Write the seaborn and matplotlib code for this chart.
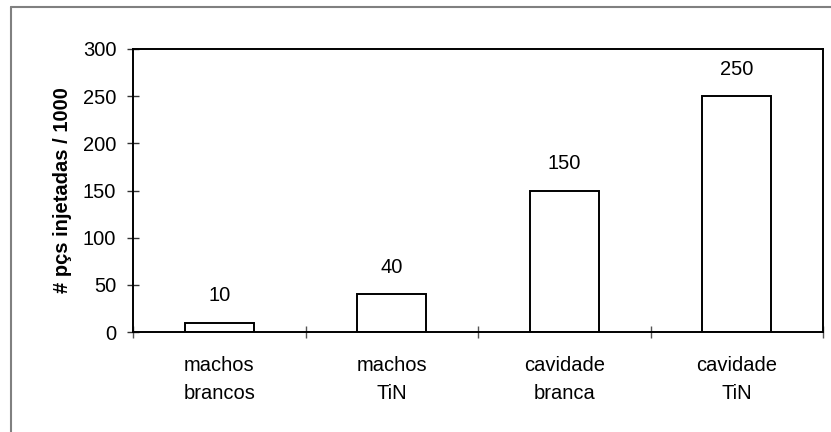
import matplotlib
matplotlib.use("Agg")
import matplotlib.pyplot as plt
import seaborn as sns
import pandas as pd
from matplotlib.lines import Line2D

categories = ["machos\nbrancos", "machos\nTiN", "cavidade\nbranca", "cavidade\nTiN"]
values = [10, 40, 150, 250]
value_labels = ["10", "40", "150", "250"]
y_ticks = [0, 50, 100, 150, 200, 250, 300]
y_label = "# pçs injetadas / 1000"

sns.set_style("white")
plt.rcParams['font.family'] = ['Liberation Sans', 'DejaVu Sans']
plt.rcParams['text.color'] = 'black'
plt.rcParams['axes.labelcolor'] = 'black'
plt.rcParams['xtick.labelcolor'] = 'black'
plt.rcParams['ytick.labelcolor'] = 'black'

FS = 14.5

fig = plt.figure(figsize=(8.31, 4.32), dpi=100)
ax = fig.add_axes([133/831, 1-332/432, (823-133)/831, (332-49)/432])

df = pd.DataFrame({"cat": categories, "val": values})
sns.barplot(data=df, x="cat", y="val", ax=ax, color="white", edgecolor="black",
            linewidth=1.4, width=0.4, saturation=1)

ax.set_ylim(0, 300)
ax.set_xlim(-0.5, 3.5)
ax.set_yticks(y_ticks)
ax.set_yticklabels([str(t) for t in y_ticks], fontsize=FS, color="black")
ax.tick_params(axis="y", direction="inout", length=8, width=1, color="#333333", pad=8, left=True)

# x ticks at category boundaries
ax.set_xticks([-0.5, 0.5, 1.5, 2.5, 3.5], minor=True)
ax.set_xticks(range(len(categories)))
ax.set_xticklabels(categories, fontsize=FS, linespacing=1.6, color="black")
ax.tick_params(axis="x", which="major", length=0, pad=17)
ax.tick_params(axis="x", which="minor", direction="inout", length=8, width=1, color="#555555", bottom=True)

for s in ax.spines.values():
    s.set_color("black")
    s.set_linewidth(1.4)

ax.set_xlabel("")
ax.set_ylabel(y_label, fontsize=FS, fontweight="bold", labelpad=8, color="black")

for i, (v, lab) in enumerate(zip(values, value_labels)):
    ax.annotate(lab, (i, v), xytext=(0, 19.5), textcoords="offset points",
                ha="center", va="center", fontsize=FS, color="black")

# outer border (gray, left and top visible)
fig.add_artist(Line2D([11/831, 11/831], [0, 1-7/432], transform=fig.transFigure,
                      color="#808080", linewidth=1.5))
fig.add_artist(Line2D([11/831, 1], [1-7/432, 1-7/432], transform=fig.transFigure,
                      color="#808080", linewidth=1.5))

fig.savefig("out.png", dpi=100)
